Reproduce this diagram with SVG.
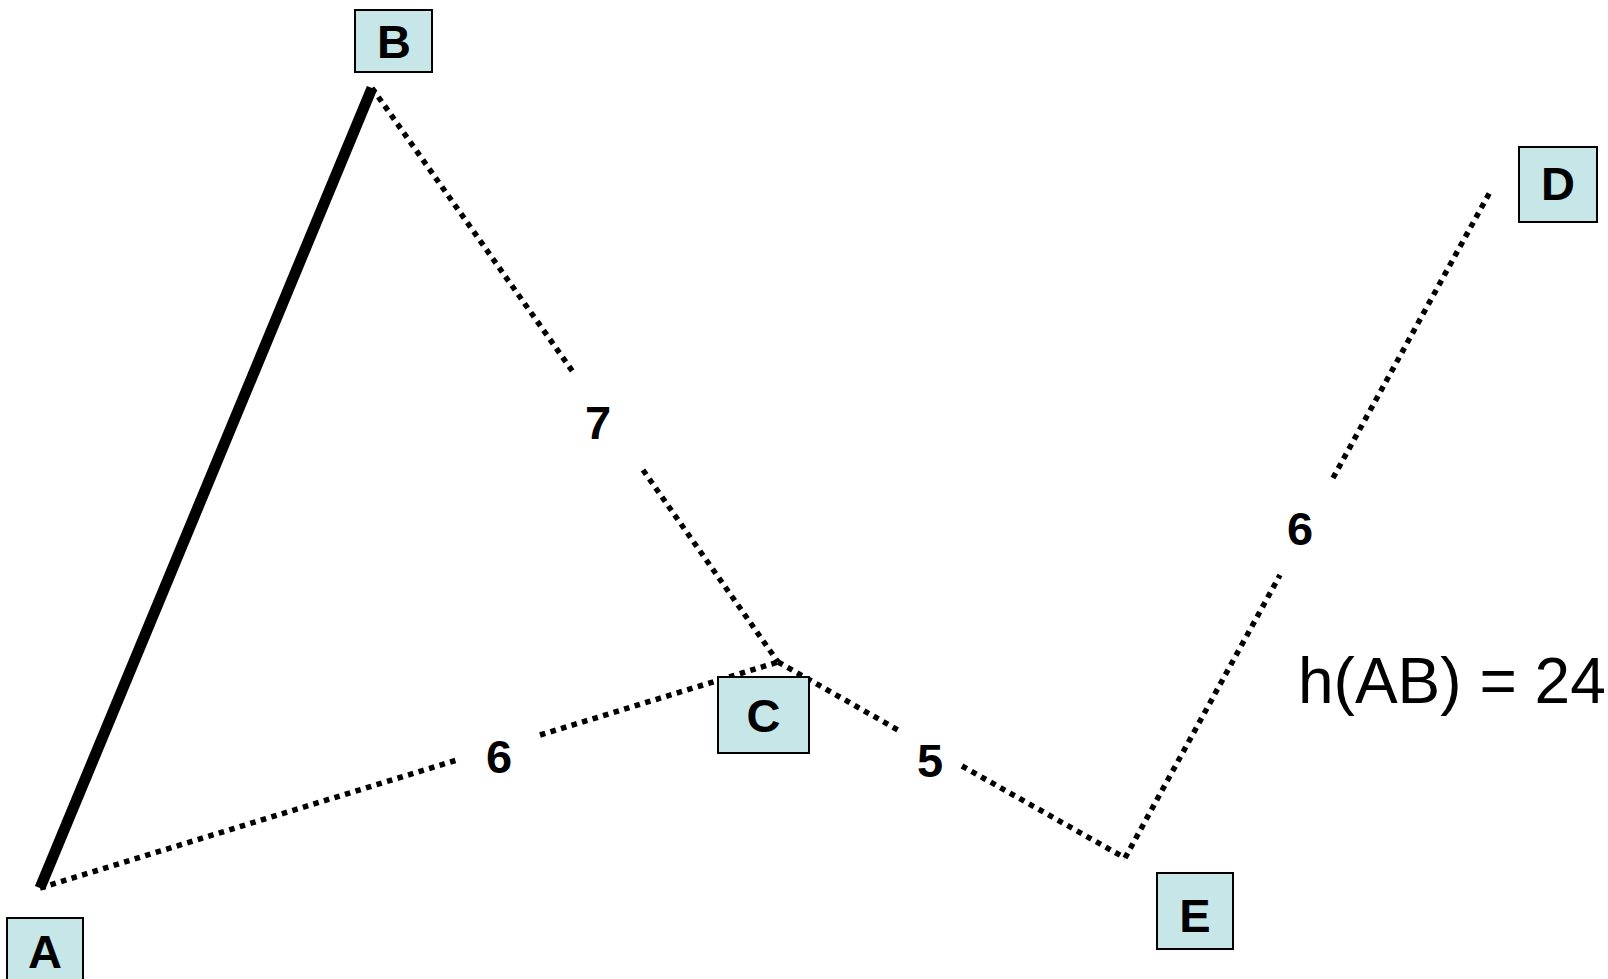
<svg xmlns="http://www.w3.org/2000/svg" width="1608" height="979" viewBox="0 0 1608 979">
  <style>
    .node rect { fill: #c6e6e8; stroke: #000; stroke-width: 2; }
    .node text { font-family: "Liberation Sans", Arial, sans-serif; font-weight: bold; font-size: 47px; text-anchor: middle; fill: #000; }
    .dotted { fill: none; stroke: #000; stroke-width: 5.5; stroke-dasharray: 5.5 5.5; }
    .solid { fill: none; stroke: #000; stroke-width: 11; }
    .weight { font-family: "Liberation Sans", Arial, sans-serif; font-weight: bold; font-size: 47px; text-anchor: middle; fill: #000; }
    .note { font-family: "Liberation Sans", Arial, sans-serif; font-size: 64px; fill: #000; }
  </style>
  <rect width="1608" height="979" fill="#fff"/>

  <g id="connectors">
    <path class="solid" d="M40,888 L372,88"/>
    <!-- B-C, broken around its weight -->
    <path class="dotted" d="M372,88 L573,372 M643,470 L778,662"/>
    <!-- A-C -->
    <path class="dotted" d="M40,888 L457,760 M540,735 L778,662"/>
    <!-- C-E -->
    <path class="dotted" d="M778,662 L898,730 M962,766 L1125,858"/>
    <!-- E-D -->
    <path class="dotted" d="M1125,858 L1280,575 M1333,478 L1490,192"/>
  </g>

  <g id="weights">
    <text class="weight" x="598" y="439">7</text>
    <text class="weight" x="499" y="773">6</text>
    <text class="weight" x="930" y="777">5</text>
    <text class="weight" x="1300" y="545">6</text>
  </g>

  <g id="node-A" class="node">
    <rect x="7" y="918" width="76" height="64"/>
    <text x="45" y="968">A</text>
  </g>
  <g id="node-B" class="node">
    <rect x="355" y="10" width="77" height="62"/>
    <text x="394" y="58">B</text>
  </g>
  <g id="node-C" class="node">
    <rect x="718" y="677" width="91" height="76"/>
    <text x="763.5" y="732">C</text>
  </g>
  <g id="node-D" class="node">
    <rect x="1519" y="147" width="78" height="75"/>
    <text x="1558" y="200">D</text>
  </g>
  <g id="node-E" class="node">
    <rect x="1157" y="873" width="76" height="76"/>
    <text x="1195" y="932">E</text>
  </g>

  <text class="note" x="1298" y="703">h(AB) = 24</text>
</svg>
